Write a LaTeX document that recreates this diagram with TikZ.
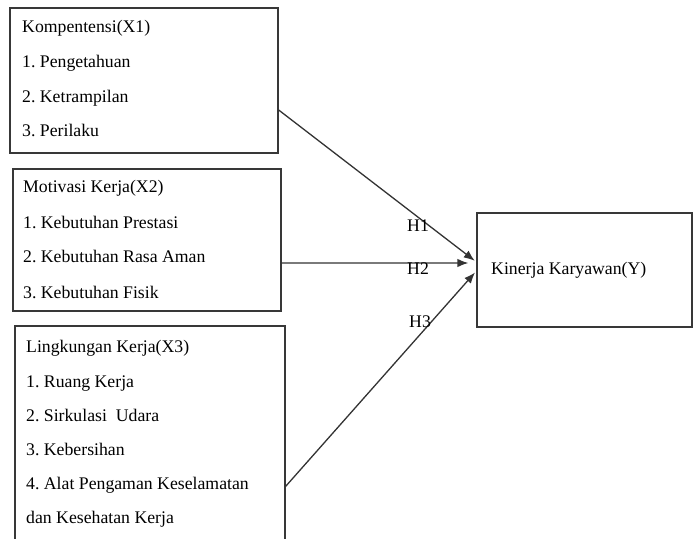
\documentclass[tikz,border=0pt]{standalone}
\usepackage{fontspec}
\setmainfont{Liberation Serif}
\usetikzlibrary{arrows.meta}
\frenchspacing

\begin{document}
\begin{tikzpicture}[
    x=1bp, y=-1bp,
    box/.style={rectangle, draw=black!78, line width=1.3bp, inner sep=0pt},
    item/.style={anchor=base west, inner sep=0pt, font=\fontsize{17.8}{20}\selectfont},
    link/.style={draw=black!80, line width=1.3bp, -{Latex[length=11bp,width=8.5bp]}}
  ]
    \clip (0,0) rectangle (698,539);

    % Boxes
    \node[box, minimum width=268bp, minimum height=145bp] (x1) at (144,80.5) {};
    \node[box, minimum width=268bp, minimum height=142bp] (x2) at (147,240) {};
    \node[box, minimum width=270bp, minimum height=230bp] (x3) at (150,441) {};
    \node[box, minimum width=215bp, minimum height=114bp] (ky) at (584.5,270) {};

    % Indicators
    \node[item] (x1t) at (22,33) {Kompentensi(X1)};
    \node[item] (x1a) at (22,68) {1. Pengetahuan};
    \node[item] (x1b) at (22,103) {2. Ketrampilan};
    \node[item] (x1c) at (22,137) {3. Perilaku};

    \node[item] (x2t) at (23,193) {Motivasi Kerja(X2)};
    \node[item] (x2a) at (23,229) {1. Kebutuhan Prestasi};
    \node[item] (x2b) at (23,263) {2. Kebutuhan Rasa Aman};
    \node[item] (x2c) at (23,298) {3. Kebutuhan Fisik};

    \node[item] (x3t) at (26,352) {Lingkungan Kerja(X3)};
    \node[item] (x3a) at (26,387) {1. Ruang Kerja};
    \node[item] (x3b) at (26,421) {2. Sirkulasi~ Udara};
    \node[item] (x3c) at (26,455) {3. Kebersihan};
    \node[item] (x3d) at (26,489) {4. Alat Pengaman Keselamatan};
    \node[item] (x3e) at (26,523) {dan Kesehatan Kerja};

    \node[item] (kyt) at (491,275) {Kinerja Karyawan(Y)};

    % Hypotheses
    \draw[link, shorten >=2bp] ([yshift=-29.5bp]x1.east) -- ([yshift=8bp]ky.west);
    \draw[link, shorten >=8bp] ([yshift=-23bp]x2.east) -- ([yshift=7bp]ky.west);
    \draw[link, shorten >=2bp] ([yshift=-161bp]x3.north east) -- ([yshift=-1bp]ky.west);

    \node[item] (h1) at (407,232) {H1};
    \node[item] (h2) at (407,275) {H2};
    \node[item] (h3) at (409,327) {H3};
  \end{tikzpicture}
\end{document}
